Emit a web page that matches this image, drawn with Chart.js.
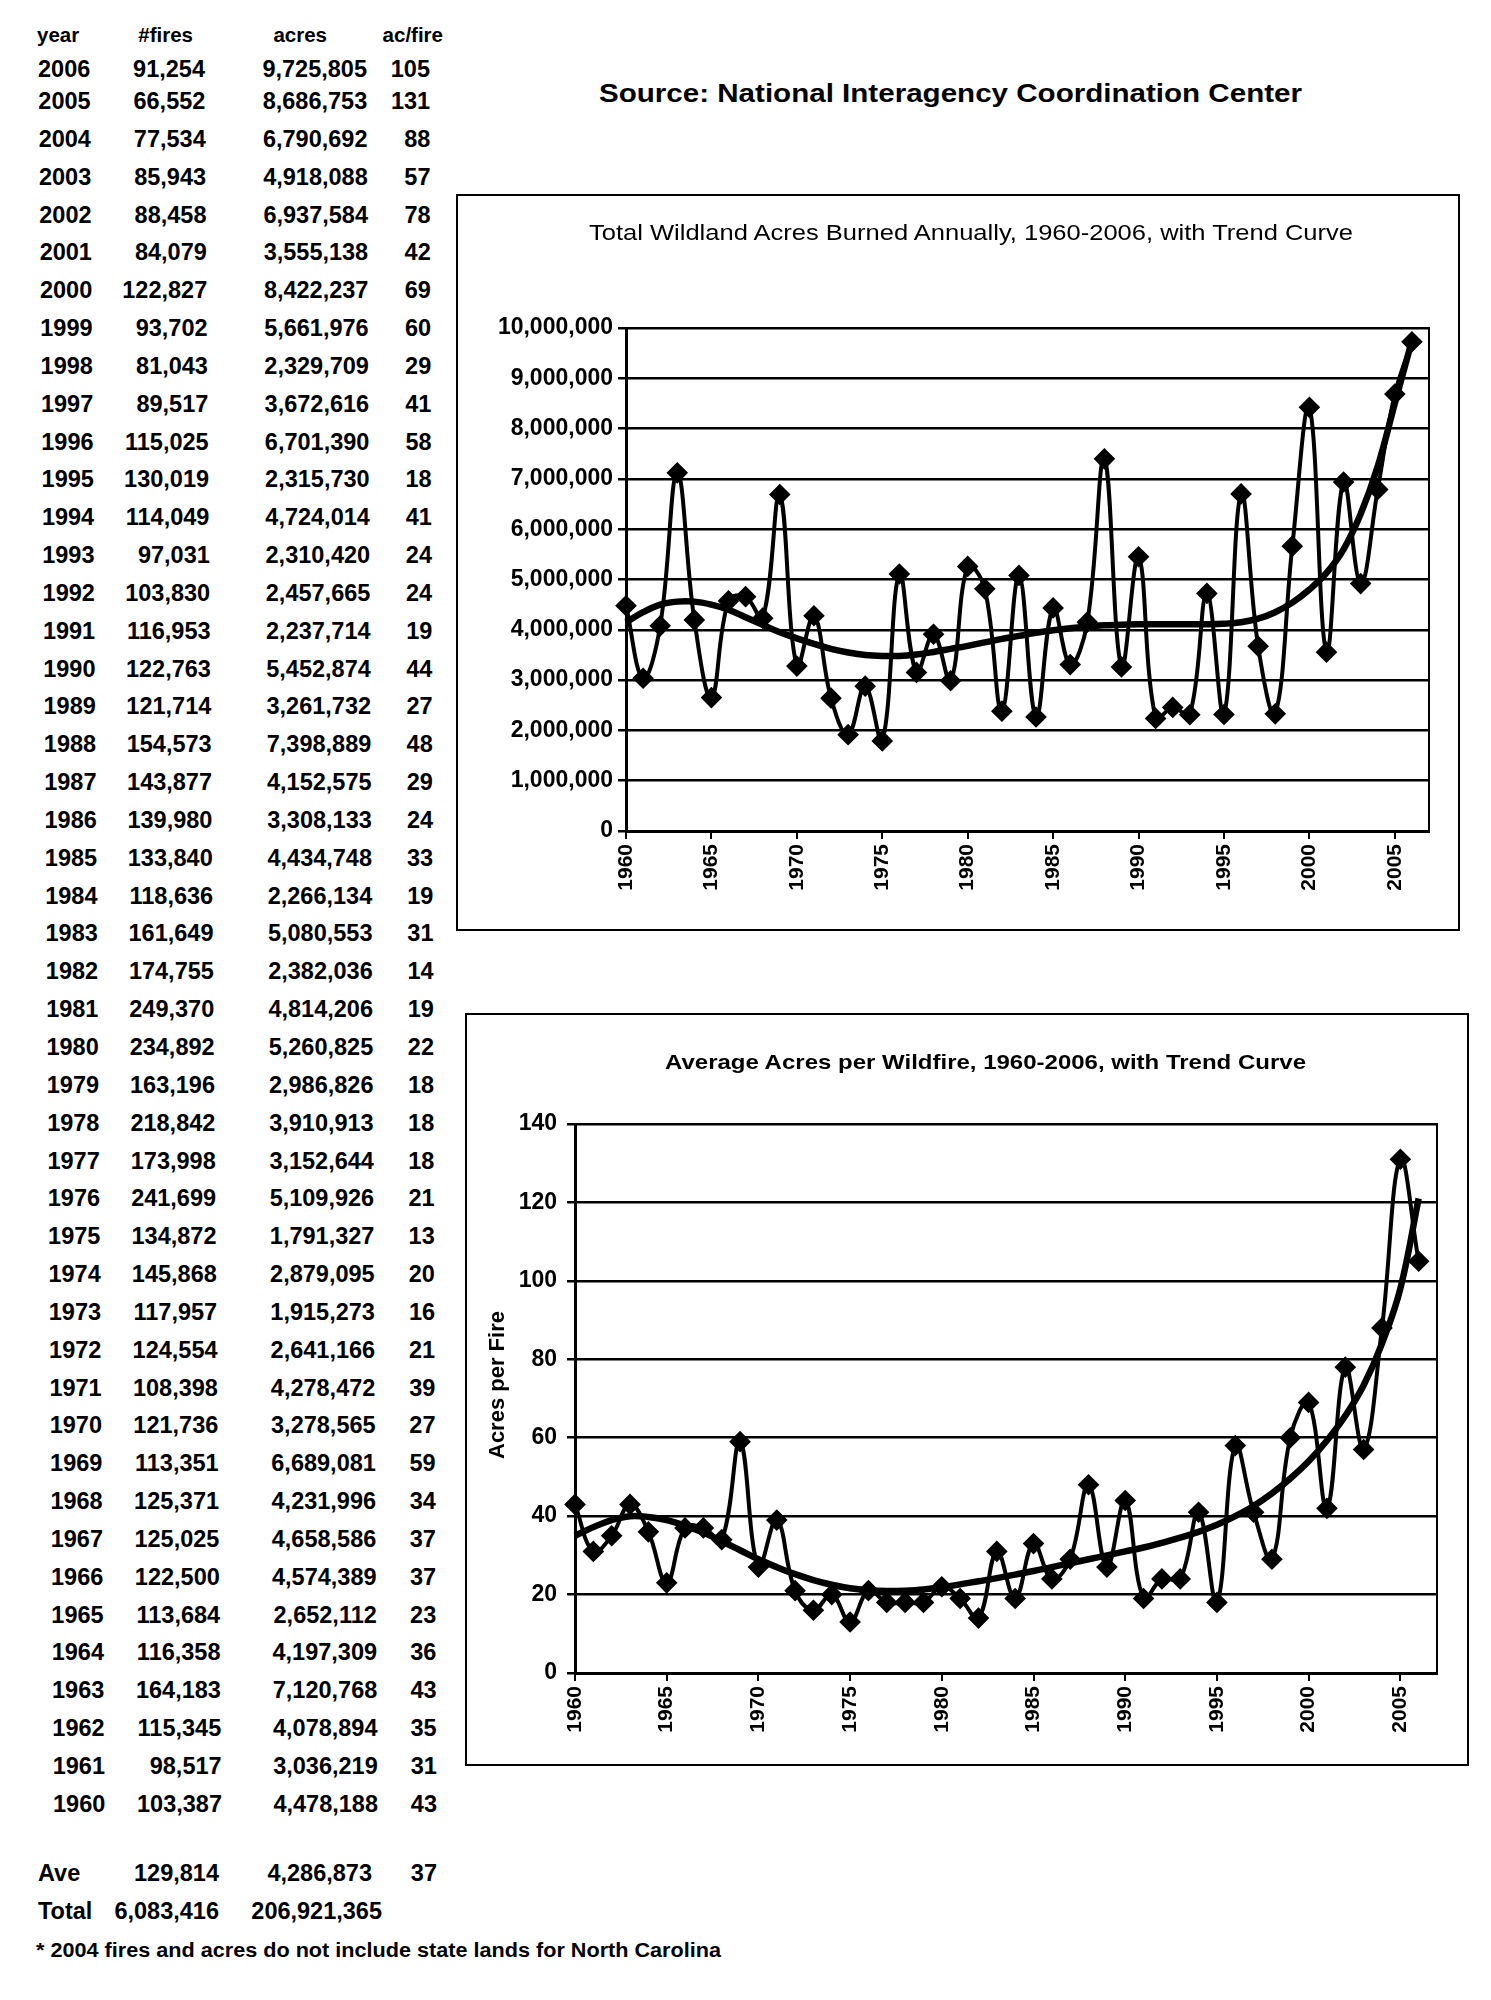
<!DOCTYPE html>
<html><head><meta charset="utf-8">
<script src="https://cdn.jsdelivr.net/npm/chart.js@4.4.1/dist/chart.umd.min.js"></script>
<style>
html,body{margin:0;padding:0;background:#fff;}
body{width:1491px;height:2000px;position:relative;overflow:hidden;font-family:"Liberation Sans",Arial,sans-serif;color:#000;}
.t{position:absolute;white-space:nowrap;line-height:1;font-weight:bold;}
.box{position:absolute;border:2px solid #000;box-sizing:border-box;pointer-events:none;}
canvas{position:absolute;}
</style></head><body>
<canvas id="c1" width="1003" height="736" style="left:456px;top:194px;width:1003px;height:736px;"></canvas>
<div class="box" style="left:456px;top:194px;width:1004px;height:737px;"></div>
<canvas id="c2" width="1003" height="752" style="left:465px;top:1013px;width:1003px;height:752px;"></canvas>
<div class="box" style="left:465px;top:1013px;width:1004px;height:753px;"></div>
<script>
// ---- data (table order: 2006 down to 1960) ----
const years = [2006,2005,2004,2003,2002,2001,2000,1999,1998,1997,1996,1995,1994,1993,1992,1991,1990,1989,1988,1987,1986,1985,1984,1983,1982,1981,1980,1979,1978,1977,1976,1975,1974,1973,1972,1971,1970,1969,1968,1967,1966,1965,1964,1963,1962,1961,1960];
const fires = [91254,66552,77534,85943,88458,84079,122827,93702,81043,89517,115025,130019,114049,97031,103830,116953,122763,121714,154573,143877,139980,133840,118636,161649,174755,249370,234892,163196,218842,173998,241699,134872,145868,117957,124554,108398,121736,113351,125371,125025,122500,113684,116358,164183,115345,98517,103387];
const acres = [9725805,8686753,6790692,4918088,6937584,3555138,8422237,5661976,2329709,3672616,6701390,2315730,4724014,2310420,2457665,2237714,5452874,3261732,7398889,4152575,3308133,4434748,2266134,5080553,2382036,4814206,5260825,2986826,3910913,3152644,5109926,1791327,2879095,1915273,2641166,4278472,3278565,6689081,4231996,4658586,4574389,2652112,4197309,7120768,4078894,3036219,4478188];
const acPerFire = [105,131,88,57,78,42,69,60,29,41,58,18,41,24,24,19,44,27,48,29,24,33,19,31,14,19,22,18,18,18,21,13,20,16,21,39,27,59,34,37,37,23,36,43,35,31,43];
const headers = ["year","#fires","acres","ac/fire"];
const summaryAve = ["Ave","129,814","4,286,873","37"];
const summaryTotal = ["Total","6,083,416","206,921,365"];
const footnote = "* 2004 fires and acres do not include state lands for North Carolina";
const sourceText = "Source: National Interagency Coordination Center";
const title1 = "Total Wildland Acres Burned Annually, 1960-2006, with Trend Curve";
const title2 = "Average Acres per Wildfire, 1960-2006, with Trend Curve";
const yTitle2 = "Acres per Fire";

// trend curves (chronological 1960..2006)
const trendYears = [1960,1961,1962,1963,1964,1965,1966,1967,1968,1969,1970,1971,1972,1973,1974,1975,1976,1977,1978,1979,1980,1981,1982,1983,1984,1985,1986,1987,1988,1989,1990,1991,1992,1993,1994,1995,1996,1997,1998,1999,2000,2001,2002,2003,2004,2005,2006];
const acresTrend = [4150000,4350000,4500000,4560000,4560000,4500000,4400000,4250000,4100000,3950000,3830000,3720000,3620000,3550000,3500000,3480000,3480000,3510000,3560000,3620000,3680000,3750000,3820000,3880000,3940000,3990000,4030000,4060000,4090000,4100000,4110000,4110000,4110000,4110000,4110000,4120000,4150000,4220000,4350000,4540000,4800000,5130000,5600000,6300000,7250000,8500000,9750000];
const acPerFireTrend = [35,37.2,39,40,39.8,39,37.6,35.8,33.6,31.3,29,27,25.2,23.7,22.5,21.6,21.1,20.9,21,21.3,21.9,22.6,23.4,24.2,25.1,26,27,28,29,30,31,32,33.2,34.5,36,37.8,40,42.6,45.8,49.6,54,59.3,65.6,73.4,84,98,121];

const xTickYears = [1960,1965,1970,1975,1980,1985,1990,1995,2000,2005];

// ---- text helpers ----
const FAM = '"Liberation Sans", Arial, sans-serif';
function txt(s, x, y, o={}) {
  const size=o.size||23, weight=o.weight||'bold', align=o.align||'left';
  const d=document.createElement('div'); d.className='t'; d.textContent=s;
  d.style.fontSize=size+'px'; d.style.fontWeight=weight;
  document.body.appendChild(d);
  const w=d.getBoundingClientRect().width;
  const sx=o.width? o.width/w : 1;
  const ww=w*sx;
  const left= align==='left'? x : align==='right'? x-ww : x-ww/2;
  d.style.left=left+'px'; d.style.top=y+'px';
  d.style.transformOrigin='0 0';
  d.style.transform=`scaleX(${sx}) translateY(-50%)`;
  return d;
}
const fmt = v => v.toLocaleString('en-US');

// ---- table ----
txt(headers[0], 37, 35, {size:20.5});
txt(headers[1], 193, 35, {size:20.5, align:'right'});
txt(headers[2], 327, 35, {size:20.5, align:'right'});
txt(headers[3], 443, 35, {size:20.5, align:'right'});
years.forEach((yr,i)=>{
  const y = i===0 ? 70 : 102 + (i-1)*37.84;
  const k = i/46;
  txt(String(yr), 38+15*k, y, {size:23.5});
  txt(fmt(fires[i]), 205+17*k, y, {size:23.5, align:'right'});
  txt(fmt(acres[i]), 367+11*k, y, {size:23.5, align:'right'});
  txt(String(acPerFire[i]), 430+7*k, y, {size:23.5, align:'right'});
});
txt(summaryAve[0], 38, 1874, {size:23.5});
txt(summaryAve[1], 219, 1874, {size:23.5, align:'right'});
txt(summaryAve[2], 372, 1874, {size:23.5, align:'right'});
txt(summaryAve[3], 437, 1874, {size:23.5, align:'right'});
txt(summaryTotal[0], 38, 1912, {size:23.5});
txt(summaryTotal[1], 219, 1912, {size:23.5, align:'right'});
txt(summaryTotal[2], 382, 1912, {size:23.5, align:'right'});
txt(footnote, 36, 1950, {size:20, width:685});

txt(sourceText, 950, 93, {size:25, align:'center', width:703});
txt(title1, 971, 233, {size:22, weight:'normal', align:'center', width:764});
txt(title2, 985, 1061, {size:21, align:'center', width:641});
const yt = txt(yTitle2, 0, 0, {size:22, width:166});
yt.style.left='0px'; yt.style.top='0px';
yt.style.transformOrigin='0 0';
const ytw = 166;
yt.style.transform = `translate(${497-11}px, ${1376+ytw/2}px) rotate(-90deg) scaleX(${166/yt.getBoundingClientRect().width || 1})`;

// ---- charts ----
const framePlugin = {id:'frame', afterDraw(c){const a=c.chartArea,x=c.ctx;x.save();x.strokeStyle='#000';x.lineWidth=2;x.strokeRect(a.left,a.top,a.right-a.left,a.bottom-a.top);x.restore();}};

function makeChart(id, pts, trendPts, yMax, yStep, pad, yW, xH, yPad) {
  return new Chart(document.getElementById(id), {
    type:'line',
    data:{datasets:[
      {data:trendPts, borderColor:'#000', borderWidth:6.5, pointRadius:0, tension:0.4, fill:false, clip:10},
      {data:pts, borderColor:'#000', borderWidth:4, pointStyle:'rectRot', pointRadius:8, pointBackgroundColor:'#000', pointBorderColor:'#000', tension:0.4, fill:false, clip:12}
    ]},
    options:{
      responsive:false, animation:false, devicePixelRatio:1,
      plugins:{legend:{display:false}, tooltip:{enabled:false}, title:{display:false}},
      layout:{padding:pad},
      scales:{
        x:{type:'linear', min:1960, max:2007,
          afterBuildTicks:s=>{s.ticks=xTickYears.map(v=>({value:v}));},
          afterFit:s=>{s.height=xH;},
          grid:{drawOnChartArea:false, drawTicks:true, tickLength:8, color:'#000', lineWidth:2},
          border:{display:true, color:'#000', width:3},
          ticks:{minRotation:90, maxRotation:90, autoSkip:false, color:'#000', padding:5,
            font:{family:FAM, size:21, weight:'bold'}, callback:v=>String(v)}
        },
        y:{min:0, max:yMax,
          afterFit:s=>{s.width=yW;},
          grid:{color:'#000', lineWidth:2.5, drawTicks:true, tickLength:8},
          border:{display:true, color:'#000', width:3},
          ticks:{stepSize:yStep, color:'#000', padding:yPad, font:{family:FAM, size:23, weight:'bold'}, callback:v=>fmt(v)}
        }
      }
    },
    plugins:[framePlugin]
  });
}

const pts1 = years.map((y,i)=>({x:y, y:acres[i]})).reverse();
const tr1 = trendYears.map((y,i)=>({x:y, y:acresTrend[i]}));
makeChart('c1', pts1, tr1, 10000000, 1000000, {top:134, right:30, left:0, bottom:0}, 170, 99, 5);

const pts2 = years.map((y,i)=>({x:y, y:acPerFire[i]})).reverse();
const tr2 = trendYears.map((y,i)=>({x:y, y:acPerFireTrend[i]}));
makeChart('c2', pts2, tr2, 140, 20, {top:111, right:31, left:0, bottom:0}, 110, 92, 10);
</script>
</body></html>
